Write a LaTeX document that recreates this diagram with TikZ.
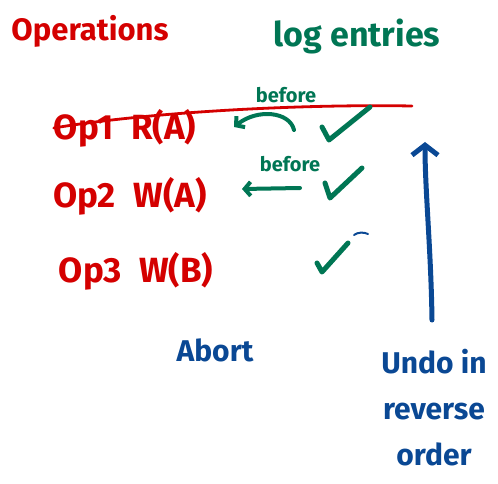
\documentclass[tikz,border=0pt]{standalone}
\usepackage{fontspec}
\setmainfont{Fira Sans}
\usetikzlibrary{arrows.meta}
\definecolor{hred}{RGB}{212,0,0}
\definecolor{hgreen}{RGB}{0,118,84}
\definecolor{hblue}{RGB}{10,72,148}
\begin{document}
\begin{tikzpicture}[x=1pt,y=-1pt,
  every node/.style={inner sep=0pt},
  titlered/.style={text=hred,font=\fontsize{31}{31}\selectfont\bfseries},
  titlegreen/.style={text=hgreen,font=\fontsize{34}{34}\selectfont\bfseries},
  optxt/.style={text=hred,font=\fontsize{35}{35}\selectfont\bfseries},
  beforetxt/.style={text=hgreen,font=\fontsize{20}{20}\selectfont\bfseries},
  bluetxt/.style={text=hblue,font=\fontsize{30}{46}\selectfont\bfseries,align=center},
  greenarrow/.style={draw=hgreen,line width=4pt,line cap=round,-{Straight Barb[length=6pt,width=14pt,line width=4pt]}},
  checkmark/.style={draw=hgreen,line width=5pt,line cap=round,line join=round},
  strike/.style={draw=hred,line width=2.8pt,line cap=round},
  bluearrow/.style={draw=hblue,line width=5pt,line cap=round,-{Straight Barb[length=10pt,width=26pt,line width=5pt]}}]
\useasboundingbox (0,0) rectangle (498,484);
% titles
\node[titlered] (ops) at (90,31) {Operations};
\node[titlegreen] (log) at (357,36) {log entries};
% operations
\node[optxt] (op1) at (125,128) {Op1\hspace{0.5em}R(A)};
\node[optxt] (op2) at (130,196) {Op2\hspace{0.5em}W(A)};
\node[optxt] (op3) at (136,271) {Op3\hspace{0.5em}W(B)};
% strike-through of Op1
\coordinate (strikeend) at (412,106);
\draw[strike] (op1.west) .. controls (150,112) and (300,104) .. (strikeend);
% before arrows
\node[beforetxt] (b1) at (286,95) {before};
\node[beforetxt] (b2) at (290,164) {before};
\coordinate (a1s) at (294,130);
\coordinate (a1e) at (234,127);
\draw[greenarrow] (a1s) .. controls (290,112) and (258,108) .. (a1e);
\coordinate (a2s) at (300,188);
\coordinate (a2e) at (242,189);
\draw[greenarrow] (a2s) -- (a2e);
% check marks
\draw[checkmark] (322,127) -- (329,140) -- (370,107);
\draw[checkmark] (325,183) -- (330,198) -- (362,168);
\draw[checkmark] (317,263) -- (322,272) -- (348,243);
\draw[draw=hblue,line width=2pt,line cap=round] (354,235) .. controls (358,232) and (364,232) .. (368,234);
% abort and undo
\node[bluetxt] (abort) at (215,350) {Abort};
\node[bluetxt] (undo) at (434,408) {Undo in\\reverse\\order};
\coordinate (undobase) at (432,320);
\coordinate (undotop) at (425,142);
\draw[bluearrow] (undobase) .. controls (431,250) and (425,190) .. (undotop);
\end{tikzpicture}
\end{document}
